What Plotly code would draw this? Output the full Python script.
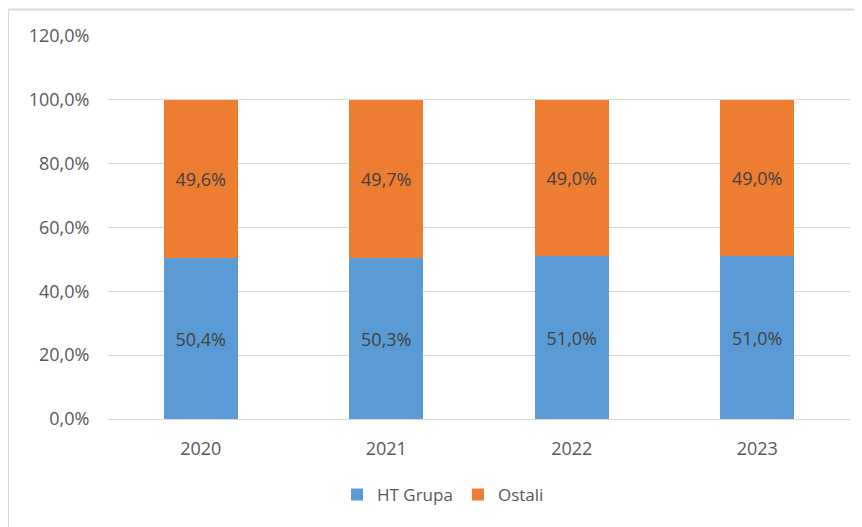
import plotly.graph_objects as go

years = ["2020", "2021", "2022", "2023"]
ht_grupa = [0.504, 0.503, 0.510, 0.510]
ostali = [0.496, 0.497, 0.490, 0.490]

blue = "#5B9BD5"
orange = "#ED7D31"
font_name = "Open Sans"

fig = go.Figure()

fig.add_trace(go.Bar(
    x=years, y=ht_grupa, name="HT Grupa",
    marker=dict(color=blue, line=dict(width=0)),
    text=[f"{v*100:.1f}%".replace(".", ",") for v in ht_grupa],
    textposition="inside", insidetextanchor="middle",
    textfont=dict(color="#404040", size=18, family=font_name),
    width=0.4,
))

fig.add_trace(go.Bar(
    x=years, y=ostali, name="Ostali",
    marker=dict(color=orange, line=dict(width=0)),
    text=[f"{v*100:.1f}%".replace(".", ",") for v in ostali],
    textposition="inside", insidetextanchor="middle",
    textfont=dict(color="#404040", size=18, family=font_name),
    width=0.4,
))

# chart border (Excel chart area), only left and top edges visible
# page has an 8px body margin, so plot area is x 100..842, y 28..411 in figure px
fig.add_shape(type="rect", xref="paper", yref="paper",
              x0=-100/742, x1=1.2, y0=-0.5, y1=(411-1.5)/383,
              line=dict(color="#D9D9D9", width=2), layer="below")

fig.update_layout(
    width=862, height=527,
    barmode="stack",
    separators=",.",
    plot_bgcolor="white", paper_bgcolor="white",
    margin=dict(l=100, r=20, t=28, b=116),
    font=dict(family=font_name, size=18, color="#595959"),
    showlegend=True,
    legend=dict(orientation="h", x=(435-100)/742, xanchor="center", y=(411-487)/383, yanchor="middle",
                traceorder="normal", font=dict(size=17, color="#595959"),
                itemwidth=30),
)

fig.update_yaxes(range=[0, 1.2], dtick=0.2, tickformat=".1%",
                 showgrid=True, gridcolor="#D9D9D9", gridwidth=1,
                 zeroline=False, showline=False,
                 ticks="outside", ticklen=14, tickcolor="rgba(0,0,0,0)")
fig.update_xaxes(showgrid=False, showline=True, linecolor="#D9D9D9", linewidth=1,
                 ticks="outside", ticklen=13, tickcolor="rgba(0,0,0,0)")

fig.write_html("out.html")
